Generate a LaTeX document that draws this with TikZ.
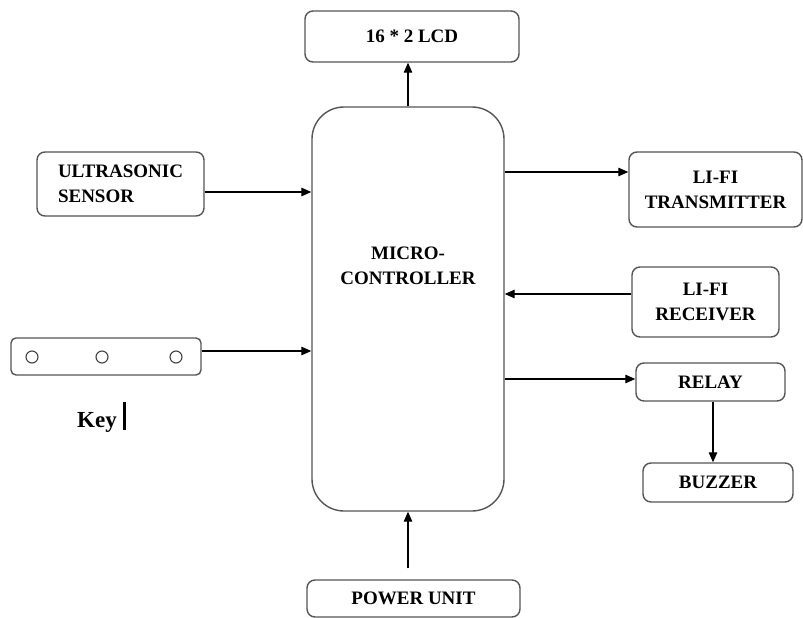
\documentclass[tikz,border=0pt]{standalone}
\usepackage{fontspec}
\setmainfont{Liberation Serif}
\usetikzlibrary{arrows.meta,calc}
\definecolor{boxgray}{RGB}{85,85,85}

\begin{document}
\begin{tikzpicture}[
    x=1pt, y=-1pt,
    blk/.style={draw=boxgray, line width=1.4pt, rounded corners=8pt, inner sep=0pt,
        font=\fontsize{19}{25}\selectfont\bfseries, align=center},
    lbl/.style={inner sep=0pt, font=\fontsize{19}{25}\selectfont\bfseries, align=center},
    arr/.style={-{Triangle[length=10pt,width=8.5pt]}, line width=1.3pt},
    hole/.style={circle, draw=black!75, line width=1.1pt, minimum size=12pt, inner sep=0pt},
]
    \useasboundingbox (0,0) rectangle (803,618);

    % controller
    \node[blk, rounded corners=32pt, minimum width=192pt, minimum height=404pt] (micro) at (408,309) {};
    \node[lbl] (mtext) at (408,266) {MICRO-\\CONTROLLER};

    % display and supply
    \node[blk, minimum width=214pt, minimum height=51pt] (lcd) at (412,36.5) {16 * 2 LCD};
    \node[blk, minimum width=213pt, minimum height=37pt] (power) at (413.5,598.5) {POWER UNIT};
    \draw[arr] (micro.north) -- (micro.north |- lcd.south);
    \draw[arr, shorten <=11pt] (micro.south |- power.north) -- (micro.south);

    % inputs
    \node[blk, align=left, minimum width=167pt, minimum height=64pt] (ultra) at (120.5,184) {ULTRASONIC\\SENSOR};
    \node[blk, rounded corners=5pt, minimum width=190pt, minimum height=37pt] (keybar) at (106,356.5) {};
    \node[hole] (k1) at (32,357) {};
    \node[hole] (k2) at (102,357) {};
    \node[hole] (k3) at (176,357) {};
    \node[anchor=base west, inner sep=0pt, font=\fontsize{23}{27}\selectfont\bfseries] (keylab) at (77,427)
        {Key\hspace{6pt}\rule[-3pt]{3pt}{28pt}};
    \draw[arr] ([yshift=-8pt]ultra.east) -- ([yshift=-8pt]ultra.east -| micro.west);
    \draw[arr] ([yshift=5.5pt]keybar.east) -- ([yshift=5.5pt]keybar.east -| micro.west);

    % li-fi link
    \node[blk, minimum width=173pt, minimum height=75pt] (tx) at (715.5,189.5) {LI-FI\\TRANSMITTER};
    \node[blk, minimum width=147pt, minimum height=70pt] (rx) at (705.5,302) {LI-FI\\RECEIVER};
    \draw[arr] ([yshift=17.5pt]tx.west -| micro.east) -- ([yshift=17.5pt]tx.west);
    \draw[arr] ([yshift=8pt]rx.west) -- ([yshift=8pt]rx.west -| micro.east);

    % outputs
    \node[blk, minimum width=149pt, minimum height=38pt] (relay) at (710.5,382) {RELAY};
    \node[blk, minimum width=150pt, minimum height=39pt] (buzzer) at (718,482.5) {BUZZER};
    \draw[arr] ([yshift=3pt]relay.west -| micro.east) -- ([yshift=3pt]relay.west);
    \draw[arr] ([xshift=2.5pt]relay.south) -- ([xshift=2.5pt]relay.south |- buzzer.north);
\end{tikzpicture}
\end{document}
